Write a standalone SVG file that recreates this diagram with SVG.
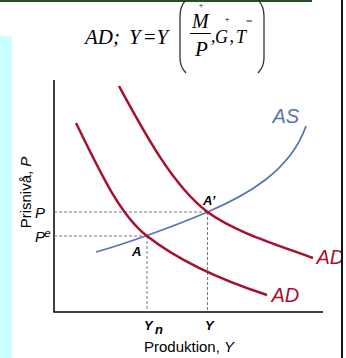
<svg xmlns="http://www.w3.org/2000/svg" width="346" height="358" viewBox="0 0 346 358">
<style>
.f{font-family:"Liberation Serif","Times New Roman",serif;font-style:italic;fill:#000}
.s{font-family:"Liberation Sans",Arial,sans-serif;fill:#000}
.lab{font-family:"Liberation Sans",Arial,sans-serif;font-style:italic;font-weight:bold;font-size:13px;fill:#000}
.ad{fill:none;stroke:#a8102f;stroke-width:2.5}
.as{fill:none;stroke:#5a74b4;stroke-width:1.8}
.dash{fill:none;stroke:#555;stroke-width:0.8;stroke-dasharray:3 2}
.ax{fill:none;stroke:#000;stroke-width:1.5}
.par{fill:none;stroke:#333;stroke-width:1.3}
.big{font-family:"Liberation Sans",Arial,sans-serif;font-style:italic;font-size:20px}
</style>
<rect x="0" y="0" width="346" height="358" fill="#fff"/>
<rect x="0" y="36" width="12" height="322" fill="#ccffff"/>
<rect x="0" y="0" width="312" height="2" fill="#22501f"/>
<g id="formula">
<text class="f" x="85" y="44" font-size="21">AD;</text>
<text class="f" x="129" y="44" font-size="21">Y</text>
<text class="f" x="142.5" y="44" font-size="21" font-style="normal">=</text>
<text class="f" x="156.5" y="44" font-size="21">Y</text>
<path class="par" d="M186,0 Q180,6 180,16 L180,58 Q180,67 186,73"/>
<path class="par" d="M258,0 Q264,6 264,16 L264,58 Q264,67 258,73"/>
<text class="f" x="201" y="7.5" font-size="8" font-style="normal" text-anchor="middle">+</text>
<text class="f" x="192" y="27.5" font-size="20">M</text>
<line x1="190" y1="33.5" x2="211" y2="33.5" stroke="#000" stroke-width="1"/>
<text class="f" x="195" y="55.5" font-size="21">P</text>
<text class="f" x="211" y="42" font-size="18" font-style="normal">,</text>
<text class="f" x="215" y="42.5" font-size="18">G</text>
<text class="f" x="227" y="22" font-size="9" font-style="normal" text-anchor="middle">+</text>
<text class="f" x="229.5" y="42" font-size="18" font-style="normal">,</text>
<text class="f" x="236" y="42.5" font-size="18">T</text>
<line x1="246.5" y1="21" x2="252" y2="21" stroke="#000" stroke-width="0.9"/>
</g>
<g id="axes">
<line class="ax" x1="54" y1="80" x2="54" y2="312"/>
<line class="ax" x1="53.3" y1="312" x2="323" y2="312"/>
</g>
<g id="connectors">
<line class="dash" x1="54" y1="212" x2="207.5" y2="212"/>
<line class="dash" x1="54" y1="236" x2="147" y2="236"/>
<line class="dash" x1="147" y1="236" x2="147" y2="312"/>
<line class="dash" x1="207.5" y1="212" x2="207.5" y2="312"/>
</g>
<g id="AS">
<path class="as" d="M96,252 C125,244 175,226 207.5,212 C245,196 290,172 306,126"/>
<text class="big" x="272.5" y="123" fill="#5a74b4">AS</text>
</g>
<g id="AD1">
<path class="ad" d="M76,123 C100,172 120,215 147,236 C175,258 215,278 267,295"/>
<text class="big" x="271.5" y="302" fill="#a8102f">AD</text>
</g>
<g id="AD2">
<path class="ad" d="M119,86 C143,130 172,185 207.5,212 C235,232 275,244 313,258"/>
<text class="big" x="316.5" y="263.5" fill="#a8102f">AD</text>
</g>
<g id="pointA">
<text class="lab" x="132" y="256">A</text>
</g>
<g id="pointA2">
<text class="lab" x="203" y="205">A’</text>
</g>
<g id="labels">
<text class="s" x="35" y="217.5" font-size="15" font-style="italic">P</text>
<text class="s" x="35" y="242" font-size="15" font-style="italic">P</text>
<text class="s" x="44.5" y="237" font-size="11" font-style="italic">e</text>
<text class="lab" x="144" y="330">Y</text>
<text class="lab" x="155" y="334" font-size="11">n</text>
<text class="lab" x="205" y="330">Y</text>
<text class="s" x="189" y="351.5" font-size="15" text-anchor="middle">Produktion, <tspan font-style="italic">Y</tspan></text>
<text class="s" transform="translate(31,192.5) rotate(-90)" font-size="15" text-anchor="middle">Prisnivå, <tspan font-style="italic">P</tspan></text>
</g>
<rect x="343" y="0" width="3" height="358" fill="#fff"/>
<rect x="341" y="0" width="2" height="358" fill="#111"/>
</svg>
